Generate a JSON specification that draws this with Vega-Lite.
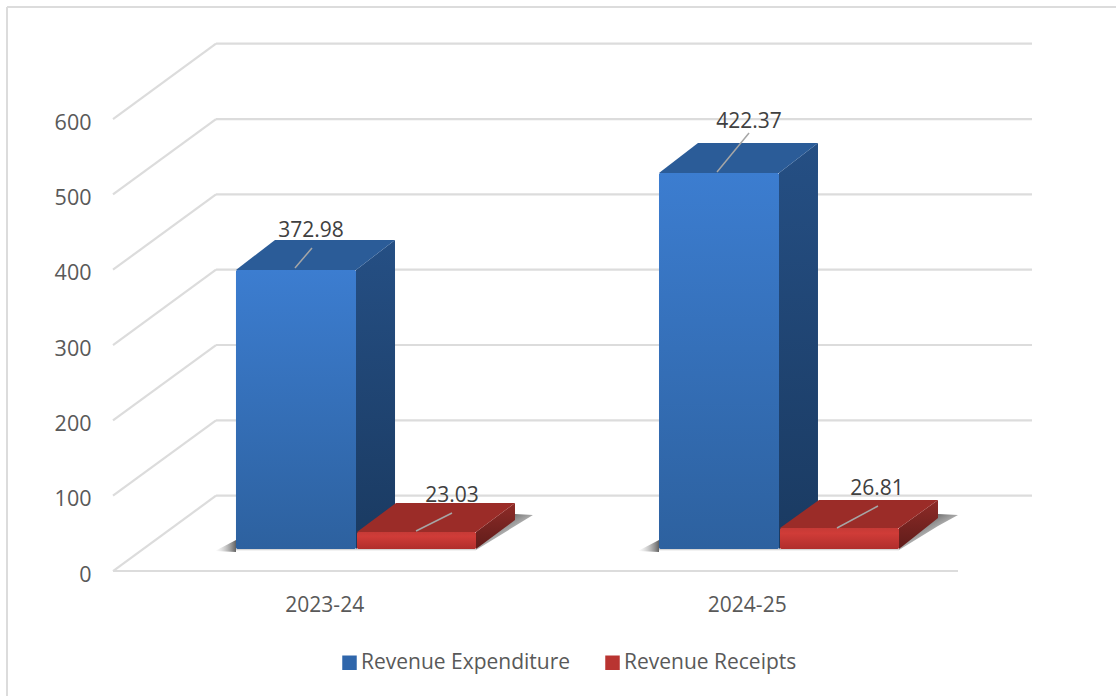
{"$schema":"https://vega.github.io/schema/vega-lite/v6.json","width":1116,"height":696,"padding":0,"autosize":{"type":"none"},"background":"white","config":{"view":{"stroke":null},"font":"Open Sans"},
"datasets":{
"border":[{"x":0.2491,"x2":0.2491,"y":-165.9,"y2":748.7},{"x":0.2491,"x2":2.87396,"y":748.7,"y2":748.7}],
"grid":[
{"x":0.5,"x2":2.5,"y":0,"y2":0},
{"x":0.5,"x2":0.7438,"y":0,"y2":100},{"x":0.7438,"x2":2.6751,"y":100,"y2":100},
{"x":0.5,"x2":0.7438,"y":100,"y2":200},{"x":0.7438,"x2":2.6751,"y":200,"y2":200},
{"x":0.5,"x2":0.7438,"y":200,"y2":300},{"x":0.7438,"x2":2.6751,"y":300,"y2":300},
{"x":0.5,"x2":0.7438,"y":300,"y2":400},{"x":0.7438,"x2":2.6751,"y":400,"y2":400},
{"x":0.5,"x2":0.7438,"y":400,"y2":500},{"x":0.7438,"x2":2.6751,"y":500,"y2":500},
{"x":0.5,"x2":0.7438,"y":500,"y2":600},{"x":0.7438,"x2":2.6751,"y":600,"y2":600},
{"x":0.5,"x2":0.7438,"y":600,"y2":700},{"x":0.7438,"x2":2.6751,"y":700,"y2":700}],
"shadowRight":[
{"id":"a","x":1.3592,"y":29.2,"y2":27.9},{"id":"a","x":1.4515,"y":75.7,"y2":59.7},{"id":"a","x":1.494,"y":74.3,"y2":74.3},
{"id":"b","x":2.3604,"y":29.2,"y2":27.9},{"id":"b","x":2.4527,"y":75.7,"y2":59.7},{"id":"b","x":2.5,"y":74.3,"y2":74.3}],
"shadowLeft":[
{"id":"a","x":0.7414,"y":26.5,"y2":26.5},{"id":"a","x":0.7911,"y":41.2,"y2":25.2},
{"id":"b","x":1.7425,"y":26.5,"y2":26.5},{"id":"b","x":1.7923,"y":41.2,"y2":25.2}],
"shadowBase":[{"x":0.7911,"x2":1.3592,"y":26.2,"y2":29.2},{"x":1.7923,"x2":2.3604,"y":26.2,"y2":29.2}],
"front":[
{"series":"Revenue Expenditure","year":"2023-24","x":0.7911,"x2":1.0751,"y":29.2,"y2":399.6},
{"series":"Revenue Receipts","year":"2023-24","x":1.0775,"x2":1.3592,"y":29.2,"y2":51.8},
{"series":"Revenue Expenditure","year":"2024-25","x":1.7923,"x2":2.0763,"y":29.2,"y2":528.3},
{"series":"Revenue Receipts","year":"2024-25","x":2.0787,"x2":2.3604,"y":29.2,"y2":57.1}],
"sideBlue":[
{"id":"a","x":1.0751,"y":399.6,"y2":29.2},{"id":"a","x":1.1675,"y":439.4,"y2":69},
{"id":"b","x":2.0763,"y":528.3,"y2":29.2},{"id":"b","x":2.1686,"y":568.2,"y2":69}],
"sideRed":[
{"id":"a","x":1.3592,"y":51.8,"y2":29.2},{"id":"a","x":1.4515,"y":90.3,"y2":67.7},
{"id":"b","x":2.3604,"y":57.1,"y2":29.2},{"id":"b","x":2.4527,"y":94.3,"y2":70.4}],
"topBlue":[
{"id":"a","y":399.6,"x":0.7911,"x2":1.0751},{"id":"a","y":439.4,"x":0.8834,"x2":1.1675},
{"id":"b","y":528.3,"x":1.7923,"x2":2.0763},{"id":"b","y":568.2,"x":1.8846,"x2":2.1686}],
"topRed":[
{"id":"a","y":51.8,"x":1.0775,"x2":1.3592},{"id":"a","y":90.3,"x":1.1698,"x2":1.4515},
{"id":"b","y":57.1,"x":2.0787,"x2":2.3604},{"id":"b","y":94.3,"x":2.171,"x2":2.4527}],
"leaders":[
{"x":0.9307,"x2":0.971,"y":402.2,"y2":428.8},
{"x":1.9296,"x2":2.0054,"y":529.7,"y2":581.4},
{"x":1.2172,"x2":1.3024,"y":53.1,"y2":77},
{"x":2.2136,"x2":2.3106,"y":57.1,"y2":86.3}],
"labels":[
{"x":0.9686,"y":451.3,"value":"372.98"},
{"x":2.0054,"y":596,"value":"422.37"},
{"x":1.3024,"y":99.6,"value":"23.03"},
{"x":2.3082,"y":108.9,"value":"26.81"}]
},
"encoding":{
"x":{"field":"x","type":"quantitative","scale":{"domain":[0.23254,2.87396],"nice":false,"zero":false},
"axis":{"values":[1,2],"labelExpr":"datum.value==1?'2023-24':'2024-25'","domain":false,"ticks":false,"grid":false,"title":null,"orient":"bottom","offset":-102,"labelPadding":0,"labelFontSize":21,"labelColor":"#595959","labelFont":"Open Sans"}},
"y":{"field":"y","type":"quantitative","scale":{"domain":[-165.9,758],"nice":false,"zero":false},
"axis":{"values":[0,100,200,300,400,500,600],"domain":false,"ticks":false,"grid":false,"title":null,"orient":"left","offset":-91,"labelPadding":0,"labelFontSize":21.5,"labelColor":"#595959","labelFont":"Open Sans","labelOffset":4}}
},
"layer":[
{"data":{"name":"border"},"mark":{"type":"rule","color":"#dcdcdc","strokeWidth":2},"encoding":{"x2":{"field":"x2"},"y2":{"field":"y2"}}},
{"data":{"name":"grid"},"mark":{"type":"rule","color":"#dcdcdc","strokeWidth":2.2},"encoding":{"x2":{"field":"x2"},"y2":{"field":"y2"}}},
{"data":{"name":"shadowRight"},"mark":{"type":"area","fill":{"gradient":"linear","x1":0.3,"y1":0.2,"x2":0.8,"y2":0.75,"stops":[{"offset":0,"color":"rgba(60,60,60,0.85)"},{"offset":0.55,"color":"rgba(120,120,120,0.55)"},{"offset":1,"color":"rgba(200,200,200,0)"}]}},"encoding":{"y2":{"field":"y2"},"detail":{"field":"id"}}},
{"data":{"name":"shadowLeft"},"mark":{"type":"area","fill":{"gradient":"linear","x1":0,"y1":0,"x2":1,"y2":0,"stops":[{"offset":0,"color":"rgba(180,180,180,0)"},{"offset":1,"color":"rgba(70,70,70,0.85)"}]}},"encoding":{"y2":{"field":"y2"},"detail":{"field":"id"}}},
{"data":{"name":"shadowBase"},"mark":{"type":"rect","fill":{"gradient":"linear","x1":0,"y1":0,"x2":0,"y2":1,"stops":[{"offset":0,"color":"rgba(120,120,120,0.45)"},{"offset":1,"color":"rgba(200,200,200,0)"}]}},"encoding":{"x2":{"field":"x2"},"y2":{"field":"y2"}}},
{"data":{"name":"sideBlue"},"mark":{"type":"area","fill":{"gradient":"linear","x1":0,"y1":0,"x2":0,"y2":1,"stops":[{"offset":0,"color":"#254f84"},{"offset":1,"color":"#1a3a61"}]}},"encoding":{"y2":{"field":"y2"},"detail":{"field":"id"}}},
{"data":{"name":"topBlue"},"mark":{"type":"area","orient":"horizontal","color":"#2b5c98"},"encoding":{"x2":{"field":"x2"},"detail":{"field":"id"}}},
{"data":{"name":"sideRed"},"mark":{"type":"area","fill":{"gradient":"linear","x1":0,"y1":0,"x2":0,"y2":1,"stops":[{"offset":0,"color":"#8e2b27"},{"offset":1,"color":"#5f1c1a"}]}},"encoding":{"y2":{"field":"y2"},"detail":{"field":"id"}}},
{"data":{"name":"topRed"},"mark":{"type":"area","orient":"horizontal","color":"#9b2c28"},"encoding":{"x2":{"field":"x2"},"detail":{"field":"id"}}},
{"data":{"name":"front"},"mark":{"type":"rect","cornerRadius":2},"encoding":{"x2":{"field":"x2"},"y2":{"field":"y2"},
"fill":{"field":"series","type":"nominal","scale":{"domain":["Revenue Expenditure","Revenue Receipts"],"range":["#2f66ab","#b93431"]},
"legend":{"title":null,"orient":"none","legendX":339,"legendY":652,"direction":"horizontal","columns":2,"symbolType":"square","symbolSize":210,"symbolStrokeWidth":0,"labelFontSize":21,"labelFont":"Open Sans","labelColor":"#595959","labelLimit":300,"columnPadding":31,"labelOffset":1}}}},
{"data":{"name":"front"},"transform":[{"filter":"datum.series=='Revenue Expenditure'"}],"mark":{"type":"rect","cornerRadius":2,"fill":{"gradient":"linear","x1":0,"y1":0,"x2":0,"y2":1,"stops":[{"offset":0,"color":"#3c7dd0"},{"offset":1,"color":"#2d619f"}]}},"encoding":{"x2":{"field":"x2"},"y2":{"field":"y2"}}},
{"data":{"name":"front"},"transform":[{"filter":"datum.series=='Revenue Receipts'"}],"mark":{"type":"rect","cornerRadius":2,"fill":{"gradient":"linear","x1":0,"y1":0,"x2":0,"y2":1,"stops":[{"offset":0,"color":"#c63a36"},{"offset":0.25,"color":"#d03c38"},{"offset":1,"color":"#b02e2c"}]}},"encoding":{"x2":{"field":"x2"},"y2":{"field":"y2"}}},
{"data":{"name":"leaders"},"mark":{"type":"rule","color":"#a6a6a6","strokeWidth":1.5},"encoding":{"x2":{"field":"x2"},"y2":{"field":"y2"}}},
{"data":{"name":"labels"},"mark":{"type":"text","font":"Open Sans","fontSize":21,"color":"#404040","align":"center","baseline":"middle"},"encoding":{"text":{"field":"value","type":"nominal"}}}
]}
